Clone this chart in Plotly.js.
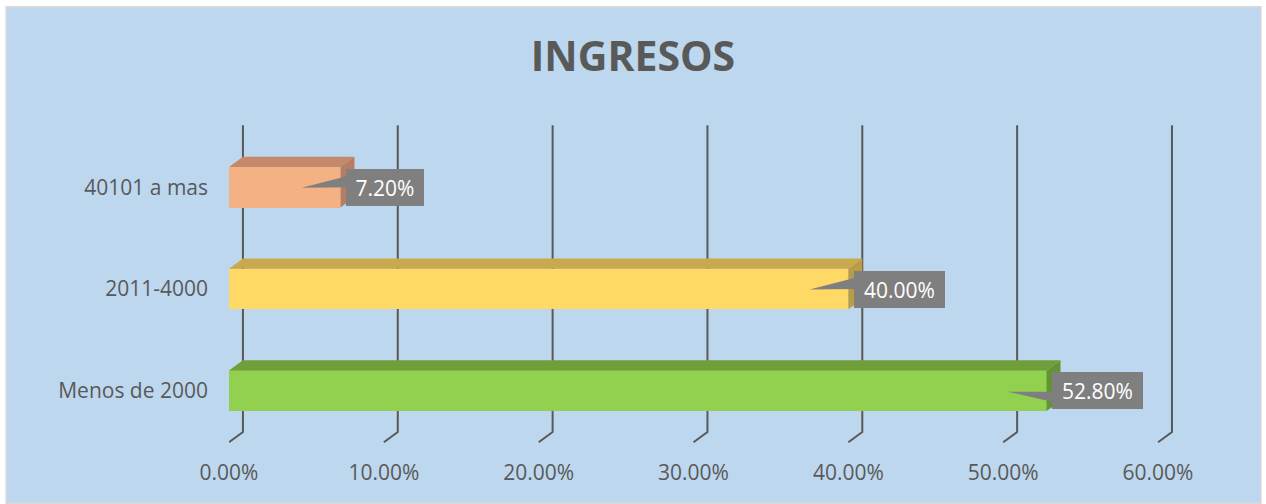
<!DOCTYPE html>
<html>
<head>
<meta charset="utf-8">
<script src="https://cdn.plot.ly/plotly-3.0.1.min.js"></script>
<style>
  html, body { margin: 0; padding: 0; background: #ffffff; }
  #chart { width: 1266px; height: 504px; }
</style>
</head>
<body>
<div id="chart"></div>
<script>
// ---- data ----
const categories = ['Menos de 2000', '2011-4000', '40101 a mas'];
const values = [52.8, 40.0, 7.2];           // percent
const xTickValues = [0, 10, 20, 30, 40, 50, 60];
const chartTitle = 'INGRESOS';

// ---- styles ----
const frontColors = ['#92D050', '#FFD966', '#F4B183'];
const topColors   = ['#6F9E3B', '#C9A94E', '#C4886A'];
const sideColors  = ['#639433', '#BC9C42', '#B67D5F'];
const calloutDir  = [-1, 1, 1];   // wedge orientation per bar
const textColor = '#595959';
const fontFam = '"Open Sans", "Liberation Sans", sans-serif';

const W = 1266, H = 504;
const ml = 229, mt = 115.8, mb = 42.25;
const pxPerPct = (1158.5 - 229) / 60;
const xMax = 62;
const pw = xMax * pxPerPct;
const mr = W - ml - pw;
const ph = H - mt - mb;
const yRange = [-0.7, 2.7];

const dx = 0.9, dy = 0.1, halfH = 0.2;
const idx = categories.map((c, i) => i);

const px2paperX = p => (p - ml) / pw;
const px2paperY = p => 1 - (p - mt) / ph;

const shapes = [];
// background panel
shapes.push({
  type: 'rect', xref: 'paper', yref: 'paper', layer: 'below',
  x0: px2paperX(6), x1: px2paperX(1261.5), y0: px2paperY(503), y1: px2paperY(6.5),
  fillcolor: '#BDD7EE', line: { color: '#D9D9D9', width: 1.5 }
});
// 3D gridlines (behind bars)
const floorY = yRange[0] + 0.194, backFloorY = floorY + dy, topY = 2.609;
xTickValues.forEach(t => {
  shapes.push({
    type: 'path', xref: 'x', yref: 'y', layer: 'below',
    path: `M ${t},${floorY} L ${t + dx},${backFloorY} L ${t + dx},${topY}`,
    line: { color: '#595959', width: 2 }
  });
});
// 3D faces of bars
values.forEach((v, i) => {
  const y = idx[i];
  shapes.push({
    type: 'path', xref: 'x', yref: 'y', layer: 'above',
    path: `M 0,${y + halfH} L ${v},${y + halfH} L ${v + dx},${y + halfH + dy} L ${dx},${y + halfH + dy} Z`,
    fillcolor: topColors[i], line: { width: 0 }
  });
  shapes.push({
    type: 'path', xref: 'x', yref: 'y', layer: 'above',
    path: `M ${v},${y - halfH} L ${v},${y + halfH} L ${v + dx},${y + halfH + dy} L ${v + dx},${y - halfH + dy} Z`,
    fillcolor: sideColors[i], line: { width: 0 }
  });
  // callout wedge
  const tipX = v - 2.5, baseX = v + 0.7;
  let tipY, b1, b2;
  if (calloutDir[i] > 0) { tipY = y - 0.005; b1 = y + 0.12; b2 = y + 0.0; }
  else { tipY = y - 0.01; b1 = y - 0.01; b2 = y - 0.12; }
  shapes.push({
    type: 'path', xref: 'x', yref: 'y', layer: 'above',
    path: `M ${tipX},${tipY} L ${baseX},${b1} L ${baseX},${b2} Z`,
    fillcolor: '#7F7F7F', line: { width: 0 }
  });
});

const annotations = values.map((v, i) => {
  const txt = v.toFixed(2) + '%';
  return {
    x: v + 0.35, y: idx[i], xref: 'x', yref: 'y',
    xanchor: 'left', yanchor: 'middle', showarrow: false,
    text: txt, bgcolor: '#7F7F7F', borderpad: 0, borderwidth: 0,
    width: 13 * txt.length + 13, height: 37, align: 'center',
    font: { family: fontFam, size: 21, color: '#FFFFFF' }
  };
});

const trace = {
  type: 'bar', orientation: 'h',
  x: values, y: idx, width: 0.4,
  marker: { color: frontColors, line: { width: 0 } },
  hoverinfo: 'skip'
};

const layout = {
  width: W, height: H,
  margin: { l: ml, r: mr, t: mt, b: mb, pad: 0 },
  paper_bgcolor: '#FFFFFF', plot_bgcolor: 'rgba(0,0,0,0)',
  showlegend: false,
  title: {
    text: '<b>' + chartTitle + '</b>', x: 0.5, xref: 'container', xanchor: 'center',
    y: 1 - 57 / H, yref: 'container', yanchor: 'middle',
    font: { family: fontFam, size: 41, color: textColor }
  },
  xaxis: {
    range: [0, xMax], showgrid: false, zeroline: false, showline: false, ticks: '',
    tickvals: xTickValues, ticktext: xTickValues.map(t => t.toFixed(2) + '%'),
    ticklabelstandoff: -4,
    tickfont: { family: fontFam, size: 21, color: textColor }, fixedrange: true
  },
  yaxis: {
    range: yRange, showgrid: false, zeroline: false, showline: false, ticks: '',
    tickvals: idx, ticktext: categories, ticklabelstandoff: 20,
    tickfont: { family: fontFam, size: 21, color: textColor }, fixedrange: true
  },
  shapes: shapes,
  annotations: annotations,
  bargap: 0
};

Plotly.newPlot('chart', [trace], layout, { displayModeBar: false, staticPlot: true });
</script>
</body>
</html>
